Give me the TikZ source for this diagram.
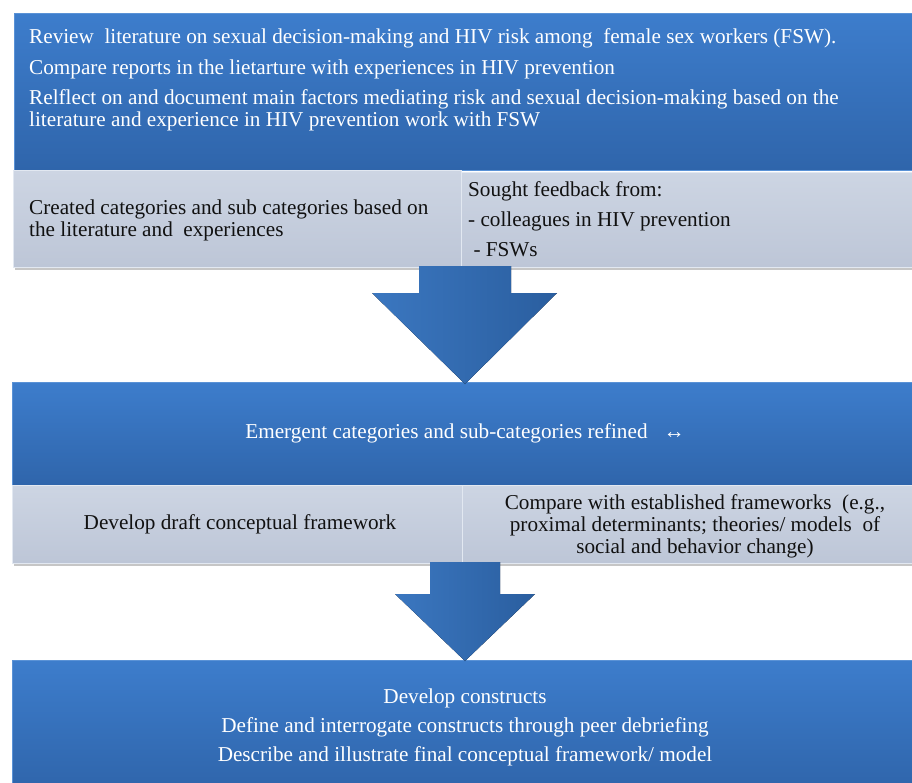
\documentclass[tikz,border=0pt]{standalone}
\usepackage{fontspec}
\setmainfont{Liberation Serif}
\usetikzlibrary{calc,shadows}
\definecolor{bluetop}{HTML}{3D7DCC}
\definecolor{bluebot}{HTML}{2F65AB}
\definecolor{blueedge}{HTML}{5A92D6}
\definecolor{graytop}{HTML}{CDD5E3}
\definecolor{graybot}{HTML}{BDC6D7}
\definecolor{grayedge}{HTML}{E2E8F1}
\definecolor{arrowL}{HTML}{3B77C0}
\definecolor{arrowR}{HTML}{2A5E9F}
\definecolor{txtdark}{HTML}{111111}
\tikzset{
  bluebox/.style={rectangle, inner sep=0pt, top color=bluetop, bottom color=bluebot, draw=blueedge, line width=0.8pt},
  graybox/.style={rectangle, inner sep=0pt, top color=graytop, bottom color=graybot, draw=grayedge, line width=1pt,
     drop shadow={shadow xshift=1.5pt, shadow yshift=-3pt, opacity=0.45}},
  wtxt/.style={inner sep=0pt, text=white, font=\fontsize{21.2}{22}\selectfont},
  btxt/.style={inner sep=0pt, text=txtdark, font=\fontsize{21.2}{22}\selectfont},
  blockarrow/.style={left color=arrowL, right color=arrowR, draw=none},
}
\begin{document}
\begin{tikzpicture}[x=1pt,y=-1pt]
\useasboundingbox (0,0) rectangle (912,782);
% boxes
\node[bluebox, minimum width=904pt, minimum height=157pt] (top) at (466,91.5) {};
\node[graybox, minimum width=448pt, minimum height=97pt] (g1l) at (237,218.5) {};
\node[graybox, minimum width=455pt, minimum height=95pt] (g1r) at (688.5,219.5) {};
\node[bluebox, minimum width=906pt, minimum height=103pt] (mid) at (465,433.5) {};
\node[graybox, minimum width=450pt, minimum height=78pt] (g2l) at (237,524) {};
\node[graybox, minimum width=454pt, minimum height=78pt] (g2r) at (689,524) {};
\node[bluebox, minimum width=906pt, minimum height=130pt] (bot) at (465,725) {};
% arrows
\coordinate (a1) at (465,266);
\coordinate (a1tip) at (465,384);
\fill[blockarrow] ($(a1)+(-46,0)$) -- ($(a1)+(46,0)$) -- ($(a1)+(46,27)$) -- ($(a1)+(92,27)$)
  -- (a1tip) -- ($(a1)+(-93,27)$) -- ($(a1)+(-46,27)$) -- cycle;
\coordinate (a2) at (465,562);
\coordinate (a2tip) at (465,661);
\fill[blockarrow] ($(a2)+(-35,0)$) -- ($(a2)+(35,0)$) -- ($(a2)+(35,32)$) -- ($(a2)+(70,32)$)
  -- (a2tip) -- ($(a2)+(-70,32)$) -- ($(a2)+(-35,32)$) -- cycle;
% top texts
\node[wtxt, anchor=base west] (t1) at (29,43) {Review\ \ literature on sexual decision-making and HIV risk among\ \ female sex workers (FSW).};
\node[wtxt, anchor=base west] (t2) at (29,74) {Compare reports in the lietarture with experiences in HIV prevention};
\node[wtxt, anchor=base west] (t3) at (29,104) {Relflect on and document main factors mediating risk and sexual decision-making based on the};
\node[wtxt, anchor=base west] (t4) at (29,126) {literature and experience in HIV prevention work with FSW};
% gray 1
\node[btxt, anchor=base west] (c1) at (29,214) {Created categories and sub categories based on};
\node[btxt, anchor=base west] (c2) at (29,236) {the literature and\ \ experiences};
\node[btxt, anchor=base west] (s1) at (468,196) {Sought feedback from:};
\node[btxt, anchor=base west] (s2) at (468,226) {- colleagues in HIV prevention};
\node[btxt, anchor=base west] (s3) at (468,256) {\ - FSWs};
% mid
\node[wtxt, anchor=base] (m1) at (465,438) {Emergent categories and sub-categories refined\ \ \ ↔};
\node[btxt, anchor=base] (d1) at (240,529) {Develop draft conceptual framework};
\node[btxt, anchor=base] (e1) at (695,509) {Compare with established frameworks\ \ (e.g.,};
\node[btxt, anchor=base] (e2) at (695,531) {proximal determinants; theories/ models\ \ of};
\node[btxt, anchor=base] (e3) at (695,553) {social and behavior change)};
% bottom
\node[wtxt, anchor=base] (b1) at (465,703) {Develop constructs};
\node[wtxt, anchor=base] (b2) at (465,732) {Define and interrogate constructs through peer debriefing};
\node[wtxt, anchor=base] (b3) at (465,761) {Describe and illustrate final conceptual framework/ model};
\end{tikzpicture}
\end{document}
